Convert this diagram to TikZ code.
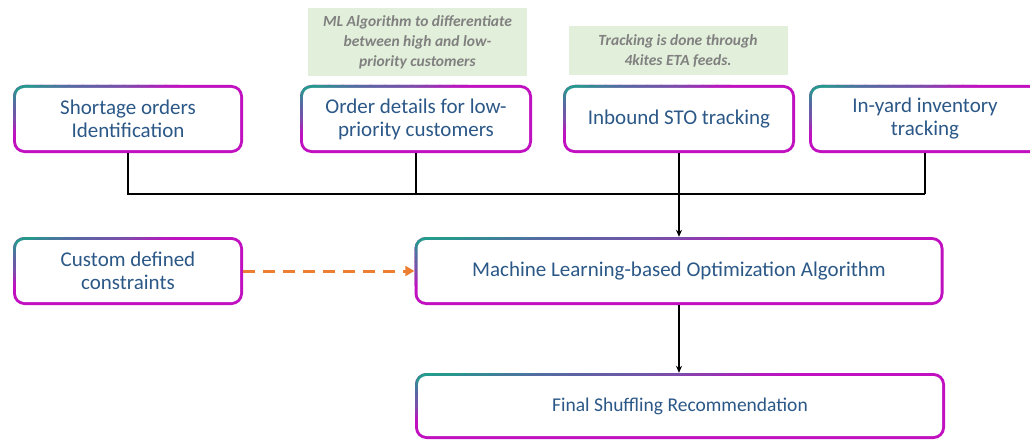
\documentclass[tikz,border=0pt]{standalone}
\usepackage{fontspec}
\setmainfont{Carlito}
\usetikzlibrary{calc,arrows.meta}
\definecolor{ringteal}{RGB}{32,160,140}
\definecolor{ringblue}{RGB}{80,110,160}
\definecolor{ringpurple}{RGB}{120,80,170}
\definecolor{ringmag}{RGB}{192,16,192}
\definecolor{textblue}{RGB}{43,88,135}
\definecolor{notegreen}{RGB}{226,239,218}
\definecolor{notegray}{RGB}{128,128,128}
\definecolor{dashorange}{RGB}{237,125,49}
\newcommand{\gradring}[4]{%
  \pgfmathsetmacro\xo{#1-#3/2-1.5}%
  \pgfmathsetmacro\yo{#2-#4/2-1.5}%
  \pgfmathsetmacro\W{#3+3}%
  \pgfmathsetmacro\H{#4+3}%
  \begin{scope}
    \clip (\xo,\yo) [rounded corners=11.5pt] rectangle ++(\W,\H);
    \fill[ringmag] ({\xo-5},{\yo-5}) rectangle ++({\W+10},{\H+10});
    \foreach \ga/\gb/\gc in {-1/0.065/ringteal, 0.06/0.125/ringblue!16!ringteal,
        0.12/0.185/ringblue!47!ringteal, 0.18/0.245/ringblue!79!ringteal,
        0.24/0.305/ringpurple!8!ringblue, 0.30/0.365/ringpurple!32!ringblue,
        0.36/0.425/ringpurple!56!ringblue, 0.42/0.485/ringpurple!80!ringblue,
        0.48/0.545/ringmag!5!ringpurple, 0.54/0.605/ringmag!32!ringpurple,
        0.60/0.665/ringmag!59!ringpurple, 0.66/0.72/ringmag!86!ringpurple}{
      \fill[fill=\gc] ({\xo+(\ga-2)*\W},{\yo+2*\H}) -- ({\xo+(\ga+2)*\W},{\yo-2*\H})
        -- ({\xo+(\gb+2)*\W},{\yo-2*\H}) -- ({\xo+(\gb-2)*\W},{\yo+2*\H}) -- cycle;
    }
    \fill[white] ({\xo+3},{\yo+3}) [rounded corners=8.5pt] rectangle ++({\W-6},{\H-6});
  \end{scope}}
\tikzset{
  boxnode/.style={rectangle, inner sep=0pt, align=center, minimum height=65pt,
    font=\fontsize{21}{23}\selectfont, text=textblue},
  notenode/.style={rectangle, fill=notegreen, inner sep=0pt, align=center,
    font=\fontsize{15.5}{20}\selectfont\bfseries\itshape, text=notegray},
  link/.style={draw=black, line width=1.3pt},
  linkarrow/.style={link, -{Stealth[length=7pt,width=6pt]}, shorten >=1.5pt},
  dasharrow/.style={draw=dashorange, line width=3pt, dash pattern=on 12pt off 8pt,
    -{Triangle[length=9pt,width=10pt]}, shorten >=1.5pt, shorten <=1.5pt}
}
\begin{document}
\begin{tikzpicture}[x=1pt,y=-1pt]
\clip (0,0) rectangle (1030,441);
\fill[white] (0,0) rectangle (1030,441);
% gradient rings (centre x, centre y, width, height of each box below)
\foreach \cx/\cy/\bw/\bh in {128/119/227/65, 416/119/229/65, 679/119/229/65, 925/119/229/65,
    128/271/227/65, 679/271/526/65, 680/406/527/63}{
  \gradring{\cx}{\cy}{\bw}{\bh}
}
% notes
\node[notenode, minimum width=219pt, minimum height=68pt] (n1) at (417.5,42) {ML Algorithm to differentiate\\between high and low-\\priority customers};
\node[notenode, minimum width=219pt, minimum height=49pt] (n2) at (678,51) {Tracking is done through\\4kites ETA feeds.};
% boxes
\node[boxnode, minimum width=227pt] (b1) at (128,119) {Shortage orders\\Identification};
\node[boxnode, minimum width=229pt] (b2) at (416,119) {Order details for low-\\priority customers};
\node[boxnode, minimum width=229pt] (b3) at (679,119) {Inbound STO tracking};
\node[boxnode, minimum width=229pt] (b4) at (925,119) {In-yard inventory\\tracking};
\node[boxnode, minimum width=227pt] (cc) at (128,271) {Custom defined\\constraints};
\node[boxnode, minimum width=526pt] (ml) at (679,271) {Machine Learning-based Optimization Algorithm};
\node[boxnode, minimum width=527pt, minimum height=63pt, font=\fontsize{19.5}{23}\selectfont] (fr) at (680,406) {Final Shuffling Recommendation};
% connectors
\coordinate (bus) at (0,194);
\draw[link, shorten <=1.5pt] (b1.south) |- (b4.south |- bus);
\draw[link, shorten >=1.5pt] (b4.south |- bus) -- (b4.south);
\draw[link, shorten <=1.5pt] (b2.south) -- (b2.south |- bus);
\draw[linkarrow, shorten <=1.5pt] (b3.south) -- (b3.south |- ml.north);
\draw[linkarrow, shorten <=1.5pt] (ml.south) -- (ml.south |- fr.north);
\draw[dasharrow] (cc.east) -- (ml.west);
\end{tikzpicture}
\end{document}
